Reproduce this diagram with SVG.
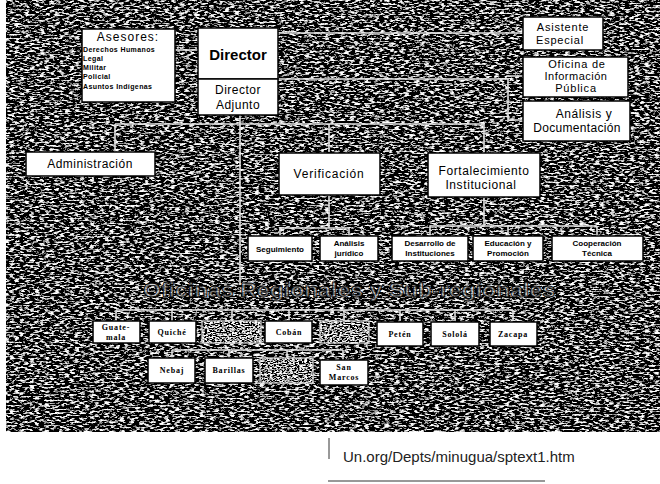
<svg xmlns="http://www.w3.org/2000/svg" width="660" height="484" viewBox="0 0 660 484">
<defs>
<filter id="noise" x="0" y="0" width="100%" height="100%">
<feTurbulence type="fractalNoise" baseFrequency="0.2 0.55" numOctaves="3" seed="7" result="t"/>
<feColorMatrix in="t" type="matrix" values="1 0 0 0 0  1 0 0 0 0  1 0 0 0 0  0 0 0 0 1" result="g"/>
<feComponentTransfer in="g">
<feFuncR type="linear" slope="5" intercept="-2.5"/>
<feFuncG type="linear" slope="5" intercept="-2.5"/>
<feFuncB type="linear" slope="5" intercept="-2.5"/>
</feComponentTransfer>
</filter>
<filter id="boxnoise" x="0" y="0" width="100%" height="100%">
<feTurbulence type="fractalNoise" baseFrequency="0.4 0.9" numOctaves="2" seed="11" result="t"/>
<feColorMatrix in="t" type="matrix" values="1 0 0 0 0  1 0 0 0 0  1 0 0 0 0  0 0 0 0 1" result="g"/>
<feComponentTransfer in="g">
<feFuncR type="linear" slope="5" intercept="-2.2"/>
<feFuncG type="linear" slope="5" intercept="-2.2"/>
<feFuncB type="linear" slope="5" intercept="-2.2"/>
</feComponentTransfer>
</filter>
</defs>
<style>
.box{fill:#fff;stroke:#000;stroke-width:1.5}
.nbox{stroke:#ddd;stroke-width:1.2;fill:none}
.t{font-family:"Liberation Sans",Arial,sans-serif;fill:#000;text-anchor:middle}
.s{font-family:"Liberation Sans",Arial,sans-serif;fill:#000;font-weight:bold;font-size:7px;letter-spacing:0.4px}
.r{font-family:"Liberation Serif","Times New Roman",serif;font-weight:bold;font-size:8px;fill:#000;text-anchor:middle;letter-spacing:0.8px}
.c{stroke:#e0e0e0;stroke-width:1.6;fill:none}
</style>
<rect width="660" height="484" fill="#fff"/>
<rect x="6" y="0" width="654" height="432" fill="#333" filter="url(#noise)"/>

<g id="connectors">
<path class="c" d="M175 50H198"/>
<path class="c" d="M278 33H523"/>
<path class="c" d="M278 79H508V120H523M508 76H523"/>
<path class="c" d="M240 115V285"/>
<path class="c" d="M115 124H484M115 124V152M329 124V152M484 124V152"/>
<path class="c" d="M329 195V228M280 228H349M280 228V236M349 228V236"/>
<path class="c" d="M484 197V226M430 226H597M430 226V236M508 226V236M597 226V236"/>
<path class="c" d="M116 310H513M116 310V321M172 310V321M232 310V321M289 310V321M344 310V321M400 310V321M455 310V321M513 310V321"/>
<path class="c" d="M172 350H343M172 350V358M229 350V358M287 350V358M343 350V360"/>
</g>

<g id="asesores">
<rect class="box" x="82" y="29" width="93" height="73"/>
<text class="t" x="128" y="41" font-size="12" letter-spacing="1">Asesores:</text>
<text class="s" x="83" y="52">Derechos Humanos</text>
<text class="s" x="83" y="61">Legal</text>
<text class="s" x="83" y="70">Militar</text>
<text class="s" x="83" y="79">Policial</text>
<text class="s" x="83" y="89">Asuntos Indígenas</text>
</g>
<g id="director">
<rect class="box" x="198" y="28" width="80" height="51"/>
<text class="t" x="238" y="60" font-size="15" font-weight="bold">Director</text>
</g>
<g id="director-adjunto">
<rect class="box" x="198" y="79" width="80" height="36"/>
<text class="t" x="238" y="94" font-size="12" letter-spacing="0.5">Director</text>
<text class="t" x="238" y="109" font-size="12" letter-spacing="0.5">Adjunto</text>
</g>
<g id="asistente">
<rect class="box" x="523" y="17" width="80" height="33"/>
<text class="t" x="563" y="31" font-size="11" letter-spacing="0.8">Asistente</text>
<text class="t" x="560" y="44" font-size="11" letter-spacing="0.8">Especial</text>
</g>
<g id="oficina-informacion">
<rect class="box" x="523" y="57" width="105" height="40"/>
<text class="t" x="577" y="68" font-size="11" letter-spacing="0.8">Oficina de</text>
<text class="t" x="576" y="80" font-size="11" letter-spacing="0.5">Información</text>
<text class="t" x="576" y="92" font-size="11" letter-spacing="0.8">Pública</text>
</g>
<g id="analisis-documentacion">
<rect class="box" x="523" y="101" width="107" height="40"/>
<text class="t" x="584" y="118" font-size="12" letter-spacing="0.6">Análisis y</text>
<text class="t" x="577" y="132" font-size="12" letter-spacing="0.3">Documentación</text>
</g>
<g id="administracion">
<rect class="box" x="26" y="152" width="129" height="24"/>
<text class="t" x="90" y="168" font-size="12" letter-spacing="0.5">Administración</text>
</g>
<g id="verificacion">
<rect class="box" x="279" y="153" width="101" height="42"/>
<text class="t" x="329" y="178" font-size="12" letter-spacing="0.8">Verificación</text>
</g>
<g id="fortalecimiento">
<rect class="box" x="428" y="153" width="112" height="44"/>
<text class="t" x="484" y="175" font-size="12" letter-spacing="0.6">Fortalecimiento</text>
<text class="t" x="481" y="189" font-size="12" letter-spacing="0.6">Institucional</text>
</g>
<g id="seguimiento">
<rect class="box" x="248" y="236" width="64" height="25"/>
<text class="t" x="280" y="252" font-size="8" font-weight="bold">Seguimiento</text>
</g>
<g id="analisis-juridico">
<rect class="box" x="320" y="236" width="58" height="25"/>
<text class="t" x="349" y="246" font-size="8" font-weight="bold">Análisis</text>
<text class="t" x="349" y="256" font-size="8" font-weight="bold">jurídico</text>
</g>
<g id="desarrollo-instituciones">
<rect class="box" x="392" y="236" width="76" height="25"/>
<text class="t" x="430" y="246" font-size="8" font-weight="bold">Desarrollo de</text>
<text class="t" x="430" y="256" font-size="8" font-weight="bold">Instituciones</text>
</g>
<g id="educacion-promocion">
<rect class="box" x="473" y="236" width="70" height="25"/>
<text class="t" x="508" y="246" font-size="8" font-weight="bold">Educación y</text>
<text class="t" x="508" y="256" font-size="8" font-weight="bold">Promoción</text>
</g>
<g id="cooperacion-tecnica">
<rect class="box" x="552" y="236" width="91" height="25"/>
<text class="t" x="597" y="246" font-size="8" font-weight="bold">Cooperación</text>
<text class="t" x="597" y="256" font-size="8" font-weight="bold">Técnica</text>
</g>

<g id="oficinas-regionales">
<text x="349" y="297" font-family="'Liberation Sans',Arial,sans-serif" font-size="20" font-weight="bold" fill="#bbb" fill-opacity="0.65" stroke="#000" stroke-width="0.8" text-anchor="middle" textLength="412" lengthAdjust="spacingAndGlyphs">Oficinas Regionales y Sub-regionales</text>
</g>

<g id="guatemala"><rect class="box" x="93" y="321" width="47" height="22"/><text class="r" x="116" y="330">Guate-</text><text class="r" x="116" y="340">mala</text></g>
<g id="quiche"><rect class="box" x="149" y="321" width="47" height="22"/><text class="r" x="172" y="335">Quiché</text></g>
<g id="huehuetenango"><rect x="202" y="321" width="59" height="22" fill="#555" filter="url(#boxnoise)"/><rect class="nbox" x="202" y="321" width="59" height="22"/></g>
<g id="coban"><rect class="box" x="265" y="321" width="47" height="22"/><text class="r" x="289" y="335">Cobán</text></g>
<g id="quetzaltenango"><rect x="320" y="321" width="49" height="22" fill="#555" filter="url(#boxnoise)"/><rect class="nbox" x="320" y="321" width="49" height="22"/></g>
<g id="peten"><rect class="box" x="377" y="322" width="46" height="24"/><text class="r" x="400" y="337">Petén</text></g>
<g id="solola"><rect class="box" x="431" y="322" width="48" height="24"/><text class="r" x="455" y="337">Sololá</text></g>
<g id="zacapa"><rect class="box" x="490" y="322" width="47" height="24"/><text class="r" x="513" y="337">Zacapa</text></g>
<g id="nebaj"><rect class="box" x="148" y="358" width="47" height="25"/><text class="r" x="172" y="373">Nebaj</text></g>
<g id="barillas"><rect class="box" x="205" y="358" width="48" height="25"/><text class="r" x="229" y="373">Barillas</text></g>
<g id="subregional-3"><rect x="260" y="358" width="53" height="25" fill="#555" filter="url(#boxnoise)"/><rect class="nbox" x="260" y="358" width="53" height="25"/></g>
<g id="san-marcos"><rect class="box" x="320" y="360" width="48" height="25"/><text class="r" x="344" y="370">San</text><text class="r" x="344" y="380">Marcos</text></g>

<g id="source">
<path d="M329 438V459" stroke="#333" stroke-width="1"/>
<text x="343" y="462" font-family="'Liberation Sans',Arial,sans-serif" font-size="15" fill="#222">Un.org/Depts/minugua/sptext1.htm</text>
<path d="M328 481H545" stroke="#333" stroke-width="1.2"/>
</g>
</svg>
